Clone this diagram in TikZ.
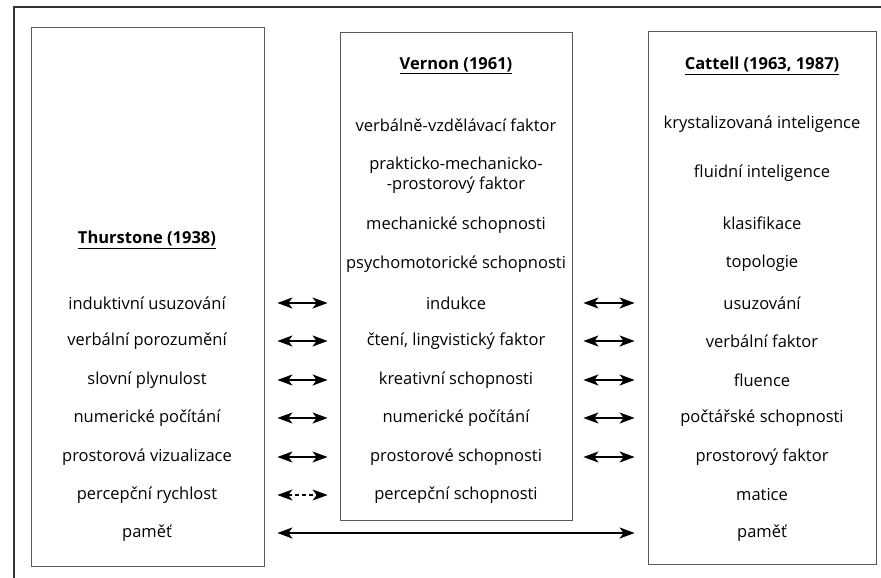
\documentclass[tikz,border=0pt]{standalone}
\usepackage{fontspec}
\setmainfont{Open Sans}
\usetikzlibrary{arrows.meta}
\begin{document}
\begin{tikzpicture}[x=1pt,y=-1pt,
  box/.style={draw=black!65,line width=0.8pt,inner sep=0pt},
  txt/.style={font=\fontsize{16.5}{20}\selectfont,inner sep=0pt,align=center},
  ttl/.style={font=\fontsize{16.5}{20}\selectfont\bfseries,inner sep=0pt},
  biarrow/.style={line width=1.8pt,{Stealth[length=15pt,width=11pt,inset=4pt]}-{Stealth[length=15pt,width=11pt,inset=4pt]}}]
\useasboundingbox (0,0) rectangle (881,578);
% outer frame (partly outside the picture)
\draw[line width=1.1pt,black!80] (14,578) -- (14,7) -- (881,7);
% boxes
\node[box,minimum width=233pt,minimum height=539pt] (lbox) at (147.5,296.5) {};
\node[box,minimum width=232pt,minimum height=488pt] (mbox) at (456,276) {};
\node[box,minimum width=228pt,minimum height=533pt] (rbox) at (762,298) {};
% titles
\node[ttl] (lt) at (147,240) {\underline{Thurstone (1938)}};
\node[ttl] (mt) at (456,66) {\underline{Vernon (1961)}};
\node[ttl] (rt) at (762,66) {\underline{Cattell (1963, 1987)}};
% left column
\node[txt] (l1) at (147,303) {induktivní usuzování};
\node[txt] (l2) at (147,341) {verbální porozumění};
\node[txt] (l3) at (147,380) {slovní plynulost};
\node[txt] (l4) at (147,418) {numerické počítání};
\node[txt] (l5) at (147,457) {prostorová vizualizace};
\node[txt] (l6) at (147,495) {percepční rychlost};
\node[txt] (l7) at (147,533) {paměť};
% middle column
\node[txt] (m01) at (456,125) {verbálně-vzdělávací faktor};
\node[txt] (m02) at (456,175) {prakticko-mechanicko-\\-prostorový faktor};
\node[txt] (m03) at (456,225) {mechanické schopnosti};
\node[txt] (m04) at (456,264) {psychomotorické schopnosti};
\node[txt] (m1) at (456,303) {indukce};
\node[txt] (m2) at (456,341) {čtení, lingvistický faktor};
\node[txt] (m3) at (456,380) {kreativní schopnosti};
\node[txt] (m4) at (456,418) {numerické počítání};
\node[txt] (m5) at (456,457) {prostorové schopnosti};
\node[txt] (m6) at (456,495) {percepční schopnosti};
% right column
\node[txt] (r01) at (762,124) {krystalizovaná inteligence};
\node[txt] (r02) at (762,173) {fluidní inteligence};
\node[txt] (r03) at (762,223) {klasifikace};
\node[txt] (r04) at (762,263) {topologie};
\node[txt] (r1) at (762,303) {usuzování};
\node[txt] (r2) at (762,341) {verbální faktor};
\node[txt] (r3) at (762,380) {fluence};
\node[txt] (r4) at (762,418) {počtářské schopnosti};
\node[txt] (r5) at (762,457) {prostorový faktor};
\node[txt] (r6) at (762,495) {matice};
\node[txt] (r7) at (762,533) {paměť};
% arrows
\foreach \i in {1,...,5}{
  \draw[biarrow,shorten <=13pt,shorten >=12pt] (lbox.east |- l\i) -- (mbox.west |- m\i);
  \draw[biarrow,shorten <=11pt,shorten >=13pt] (mbox.east |- m\i) -- (rbox.west |- r\i);
}
\draw[biarrow,dash pattern=on 4pt off 3pt,line width=1.3pt,shorten <=13pt,shorten >=12pt] (lbox.east |- l6) -- (mbox.west |- m6);
\draw[biarrow,shorten <=13pt,shorten >=13pt] (lbox.east |- l7) -- (rbox.west |- r7);
\end{tikzpicture}
\end{document}
